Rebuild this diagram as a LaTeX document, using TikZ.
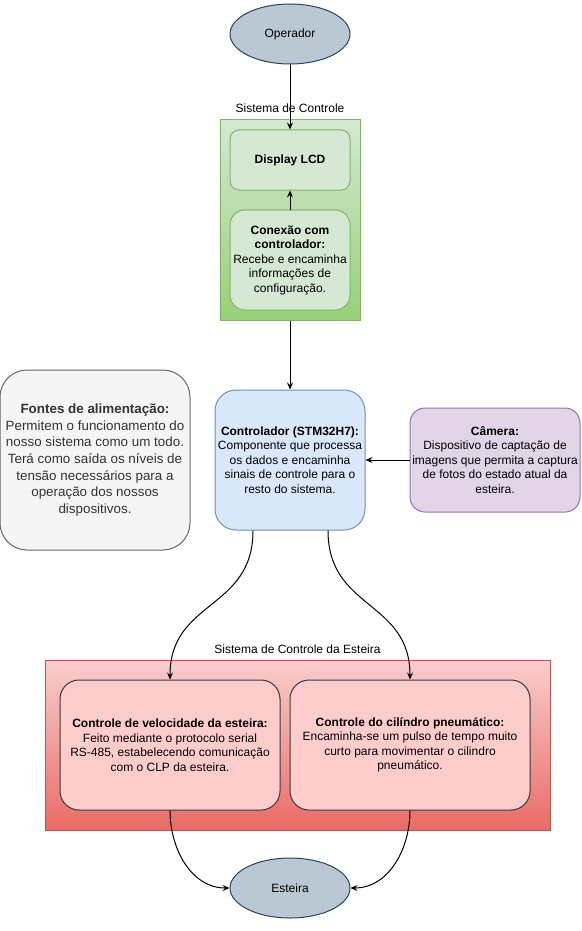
\documentclass[tikz,border=0pt]{standalone}
\usepackage{fontspec}
\setmainfont{Liberation Sans}
\usetikzlibrary{arrows.meta}
\usetikzlibrary{shapes.geometric}
\usetikzlibrary{positioning}

\definecolor{endfill}{HTML}{BAC8D3}
\definecolor{endline}{HTML}{23445D}
\definecolor{grnfill}{HTML}{D5E8D4}
\definecolor{grndark}{HTML}{97D077}
\definecolor{grnline}{HTML}{82B366}
\definecolor{bluefill}{HTML}{DAE8FC}
\definecolor{blueline}{HTML}{6C8EBF}
\definecolor{grayfill}{HTML}{F5F5F5}
\definecolor{grayline}{HTML}{666666}
\definecolor{graytext}{HTML}{333333}
\definecolor{purpfill}{HTML}{E1D5E7}
\definecolor{purpline}{HTML}{9673A6}
\definecolor{redfill}{HTML}{F8CECC}
\definecolor{reddark}{HTML}{EA6B66}
\definecolor{redline}{HTML}{B85450}
\definecolor{pinkfill}{HTML}{FFCCCC}
\definecolor{pinkline}{HTML}{36393D}

\begin{document}
\begin{tikzpicture}[x=1pt,y=-1pt,->,>={Stealth[length=7pt,width=6pt,inset=2.5pt]},line width=1pt,
    font=\fontsize{12}{14.5}\selectfont,
    end node/.style={ellipse,draw=endline,fill=endfill,minimum width=120pt,minimum height=60pt},
    box node/.style={rectangle,draw,align=center,inner sep=2pt,rounded corners=#1},
    grn node/.style={box node=#1,draw=grnline,fill=grnfill},
    pink node/.style={box node=#1,draw=pinkline,fill=pinkfill},
    group node/.style={rectangle,draw,inner sep=0pt}
    ]

    \useasboundingbox (0,0) rectangle (581,931);

    % containers
    \node[group node,draw=grnline,top color=grnfill,bottom color=grndark,
      minimum width=140pt,minimum height=200pt](sc) at (290,220){};
    \node(sclbl) at (290,108){Sistema de Controle};
    \node[group node,draw=redline,top color=redfill,bottom color=reddark,
      minimum width=505pt,minimum height=170pt](se) at (297.5,745){};
    \node(selbl) at (297.5,649){Sistema de Controle da Esteira};

    % nodes
    \node[end node](op) at (290,34){Operador};
    \node[grn node=9pt,minimum width=120pt,minimum height=60pt](lcd) at (290,160){\textbf{Display LCD}};
    \node[grn node=15pt,minimum width=120pt,minimum height=100pt](con) at (290,260)
      {\textbf{Conexão com}\\\textbf{controlador:}\\Recebe e encaminha\\informações de\\configuração.};
    \node[box node=21pt,draw=blueline,fill=bluefill,minimum width=150pt,minimum height=140pt](ctrl) at (290,460)
      {\textbf{Controlador (STM32H7):}\\Componente que processa\\os dados e encaminha\\sinais de controle para o\\resto do sistema.};
    \node[box node=27pt,draw=grayline,fill=grayfill,text=graytext,minimum width=190pt,minimum height=180pt,
      font=\fontsize{13.4}{16.7}\selectfont](fontes) at (95,460)
      {\textbf{Fontes de alimentação:}\\Permitem o funcionamento do\\nosso sistema como um todo.\\Terá como saída os níveis de\\tensão necessários para a\\operação dos nossos\\dispositivos.};
    \node[box node=15pt,draw=purpline,fill=purpfill,minimum width=170pt,minimum height=104pt](cam) at (495,460)
      {\textbf{Câmera:}\\Dispositivo de captação de\\imagens que permita a captura\\de fotos do estado atual da\\esteira.};
    \node[pink node=19pt,minimum width=220pt,minimum height=130pt](vel) at (170,745)
      {\textbf{Controle de velocidade da esteira:}\\Feito mediante o protocolo serial\\RS-485, estabelecendo comunicação\\com o CLP da esteira.};
    \node[pink node=19pt,minimum width=240pt,minimum height=130pt](cil) at (410,745)
      {\textbf{Controle do cilíndro pneumático:}\\Encaminha-se um pulso de tempo muito\\curto para movimentar o cilindro\\pneumático.};
    \node[end node](est) at (290,888){Esteira};

    % connectors
    \path
    (op) edge (lcd)
    (con) edge (lcd)
    (sc) edge (ctrl)
    (cam) edge (ctrl)
    ([xshift=-37pt]ctrl.south) edge[out=-90,in=90,looseness=1.2] (vel.north)
    ([xshift=38pt]ctrl.south) edge[out=-90,in=90,looseness=1.2] (cil.north)
    (vel.south) edge[out=-90,in=180] (est.west)
    (cil.south) edge[out=-90,in=0] (est.east);
  \end{tikzpicture}
\end{document}
